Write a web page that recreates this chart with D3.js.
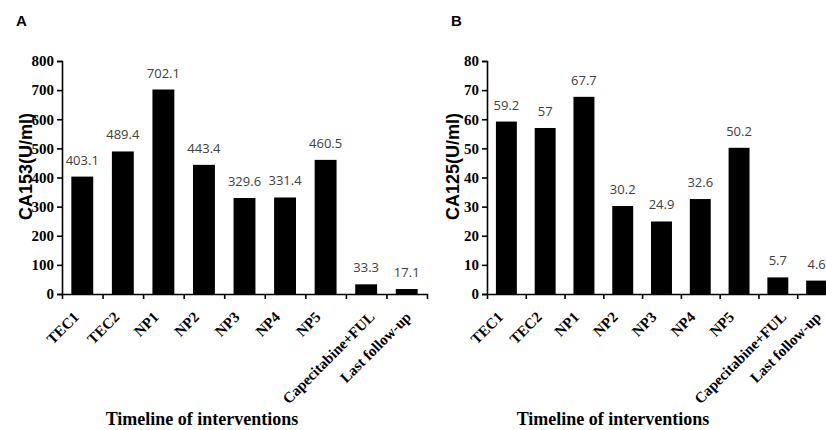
<!DOCTYPE html>
<html><head><meta charset="utf-8">
<script src="https://cdn.jsdelivr.net/npm/d3@7"></script>
<style>
html,body{margin:0;padding:0;background:#fff;}
svg{display:block;}
</style></head>
<body>
<svg id="chart" width="826" height="430"></svg>
<script>
const categories = ["TEC1","TEC2","NP1","NP2","NP3","NP4","NP5","Capecitabine+FUL","Last follow-up"];
const ca153Values = [403.1, 489.4, 702.1, 443.4, 329.6, 331.4, 460.5, 33.3, 17.1];
const ca125Values = [59.2, 57, 67.7, 30.2, 24.9, 32.6, 50.2, 5.7, 4.6];
const ca153Ticks = [0,100,200,300,400,500,600,700,800];
const ca125Ticks = [0,10,20,30,40,50,60,70,80];
const panelLetters = ["A","B"];
const yTitles = ["CA153(U/ml)","CA125(U/ml)"];
const xTitle = "Timeline of interventions";

const svg = d3.select("#chart");
const serif = "'Liberation Serif','Times New Roman',serif";
const sans = "'Liberation Sans',Arial,sans-serif";

function panel(cfg){
  const g = svg.append("g");
  const x = d3.scaleBand().domain(categories).range([cfg.left, cfg.right]).paddingInner(0.46).paddingOuter(0.23);
  const y = d3.scaleLinear().domain([0, cfg.max]).range([cfg.bottom, cfg.top]);
  const idx = d3.scaleLinear().domain([0, categories.length]).range([cfg.left, cfg.right]);

  g.selectAll("rect.bar").data(cfg.values).join("rect")
    .attr("class","bar")
    .attr("x",(d,i)=>x(categories[i]))
    .attr("width",x.bandwidth())
    .attr("y",d=>y(d))
    .attr("height",d=>y(0)-y(d))
    .attr("fill","#000");

  g.selectAll("text.val").data(cfg.values).join("text")
    .attr("class","val")
    .attr("x",(d,i)=>x(categories[i])+x.bandwidth()/2)
    .attr("y",d=>y(d)-12)
    .attr("text-anchor","middle")
    .style("font-family","'Open Sans',sans-serif")
    .style("font-size","13px")
    .attr("fill","#404040")
    .text(d=>d);

  const ya = g.append("g").attr("transform",`translate(${cfg.left},0)`)
    .call(d3.axisLeft(y).tickValues(cfg.ticks).tickSize(5).tickPadding(3).tickFormat(d3.format("d")));
  ya.select(".domain").attr("stroke","#000").attr("stroke-width",1.6);
  ya.selectAll(".tick line").attr("stroke","#000").attr("stroke-width",1.6);
  ya.selectAll(".tick text").style("font-family",serif).style("font-weight","bold").style("font-size","15px").attr("fill","#000");

  const xa = g.append("g").attr("transform",`translate(0,${cfg.bottom})`)
    .call(d3.axisBottom(idx).tickValues(d3.range(categories.length+1)).tickSize(5).tickSizeOuter(0).tickFormat(""));
  xa.select(".domain").attr("stroke","#000").attr("stroke-width",1.6);
  xa.selectAll(".tick line").attr("stroke","#000").attr("stroke-width",1.6);

  const xl = g.selectAll("text.xl").data(categories).join("text")
    .attr("class","xl")
    .attr("text-anchor","end")
    .style("font-family",serif).style("font-weight","bold").style("font-size","15px")
    .attr("fill","#000")
    .text(d=>d);
  xl.attr("transform",function(d){
    const L = this.getComputedTextLength();
    const shift = -4 + 0.14*(L-27);
    return `translate(${x(d)+x.bandwidth()/2+shift},${cfg.bottom+24}) rotate(-45)`;
  });

  g.append("text")
    .attr("transform",`translate(${cfg.yTitleX},${(cfg.top+cfg.bottom)/2-11}) rotate(-90)`)
    .attr("text-anchor","middle")
    .style("font-family",sans).style("font-weight","bold").style("font-size","18px")
    .attr("fill","#000")
    .text(cfg.yTitle);

  g.append("text")
    .attr("x",cfg.xTitleX).attr("y",425)
    .attr("text-anchor","middle")
    .style("font-family",serif).style("font-weight","bold").style("font-size","18px")
    .attr("fill","#000")
    .text(xTitle);

  g.append("text")
    .attr("x",cfg.letterX).attr("y",26)
    .style("font-family",sans).style("font-weight","bold").style("font-size","15px")
    .attr("fill","#000")
    .text(cfg.letter);
}

panel({left:62,right:427,top:61,bottom:294,max:800,values:ca153Values,ticks:ca153Ticks,
  yTitle:yTitles[0],yTitleX:32,xTitleX:202,letter:panelLetters[0],letterX:16});
panel({left:487,right:836,top:61,bottom:294,max:80,values:ca125Values,ticks:ca125Ticks,
  yTitle:yTitles[1],yTitleX:459,xTitleX:613,letter:panelLetters[1],letterX:451});
</script>
</body></html>
